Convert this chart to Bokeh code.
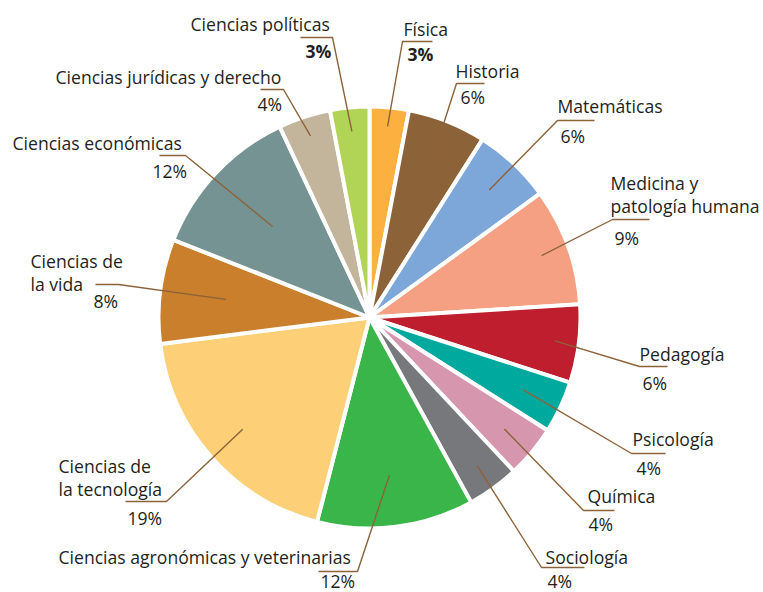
import math
from bokeh.plotting import figure
from bokeh.models import Range1d, ColumnDataSource
from bokeh.core.properties import value
from bokeh.embed import file_html
from bokeh.resources import INLINE

# ---- data ----
categories = ["Física", "Historia", "Matemáticas", "Medicina y patología humana",
              "Pedagogía", "Psicología", "Química", "Sociología",
              "Ciencias agronómicas y veterinarias", "Ciencias de la tecnología",
              "Ciencias de la vida", "Ciencias económicas",
              "Ciencias jurídicas y derecho", "Ciencias políticas"]
values = [3, 6, 6, 9, 6, 4, 4, 4, 12, 19, 8, 12, 4, 3]
pct_labels = ["3%", "6%", "6%", "9%", "6%", "4%", "4%", "4%", "12%", "19%", "8%", "12%", "4%", "3%"]
name_lines = [["Física"], ["Historia"], ["Matemáticas"], ["Medicina y", "patología humana"],
              ["Pedagogía"], ["Psicología"], ["Química"], ["Sociología"],
              ["Ciencias agronómicas y veterinarias"], ["Ciencias de", "la tecnología"],
              ["Ciencias de", "la vida"], ["Ciencias económicas"],
              ["Ciencias jurídicas y derecho"], ["Ciencias políticas"]]
bold_pct = [True, False, False, False, False, False, False, False, False, False, False, False, False, True]
colors = ["#FBB040", "#8C6239", "#7DA7D9", "#F6A083", "#BE1E2D", "#00A99D", "#D696AE",
          "#77787B", "#39B54A", "#FDD077", "#C97F2C", "#759392", "#C2B59B", "#B1D356"]

# ---- layout (screen pixels) ----
W, H = 763, 592
CX, CY, R = 369, 317, 211
def sy(y):
    return H - y

# name x, first-line y, pct x, pct y, hline x_far, hline x_conn, hline y, leader inner radius
layout = [
    (403, 28, 407, 53, 432, 402, 41, 192),
    (455, 70, 460, 96, 484, 456, 83, 171),
    (557, 105, 560, 135, 594, 557, 120, 175),
    (610, 182, 614, 237, 649, 612, 219, 183),
    (639, 353, 642, 382, 667, 639, 366, 187),
    (632, 438, 636, 467, 665, 631, 453, 170),
    (587, 495, 588, 523, 614, 583, 510, 175),
    (545, 556, 547, 580, 584, 541, 567, 183),
    (58, 556, 320, 580, 318, 357, 571, 159),
    (58, 465, 127, 517, 125, 166, 501, 169),
    (30, 260, 93, 300, 95, 118, 284, 145),
    (12, 142, 152, 170, 159, 185, 155, 133),
    (55, 76, 257, 103, 260, 283, 89, 191),
    (190, 23, 305, 50, 300, 332, 37, 187),
]
LINE_GAP = 23
FONT = "Open Sans"
FSIZE = "17.6px"

total = float(sum(values))
starts, ends, mids = [], [], []
cum = 0.0
for v in values:
    a0 = cum / total * 2 * math.pi
    cum += v
    a1 = cum / total * 2 * math.pi
    starts.append(math.pi / 2 - a1)
    ends.append(math.pi / 2 - a0)
    mids.append((a0 + a1) / 2)

p = figure(width=W, height=H, output_backend="svg", toolbar_location=None,
           x_range=Range1d(0, W), y_range=Range1d(0, H), min_border=0)
p.axis.visible = False
p.grid.visible = False
p.outline_line_color = None
p.background_fill_color = "white"
p.border_fill_color = "white"

src = ColumnDataSource(dict(x=[CX] * len(values), y=[sy(CY)] * len(values),
                            start=starts, end=ends, color=colors))
p.wedge(x="x", y="y", radius=R, start_angle="start", end_angle="end",
        fill_color="color", line_color="white", line_width=4, source=src)

# leader lines
xs, ys = [], []
for i, lay in enumerate(layout):
    nx, ny, px, py, xfar, xconn, hy, rin = lay
    ix = CX + rin * math.sin(mids[i])
    iy = CY - rin * math.cos(mids[i])
    xs.append([xfar, xconn, ix])
    ys.append([sy(hy), sy(hy), sy(iy)])
p.multi_line(xs, ys, line_color="#8C6239", line_width=1.4)

# labels
tx, ty, tt = [], [], []
pbx, pby, pbt, pnx, pny, pnt = [], [], [], [], [], []
for i, lay in enumerate(layout):
    nx, ny, px, py = lay[:4]
    for k, ln in enumerate(name_lines[i]):
        tx.append(nx); ty.append(sy(ny + k * LINE_GAP)); tt.append(ln)
    if bold_pct[i]:
        pbx.append(px); pby.append(sy(py)); pbt.append(pct_labels[i])
    else:
        pnx.append(px); pny.append(sy(py)); pnt.append(pct_labels[i])

common = dict(text_font=value(FONT), text_font_size=FSIZE, text_color="#231F20",
              text_align="left", text_baseline="middle")
p.text(tx, ty, text=tt, **common)
p.text(pnx, pny, text=pnt, **common)
p.text(pbx, pby, text=pbt, text_font_style="bold", **common)

open("out.html", "w").write(file_html(p, INLINE))
